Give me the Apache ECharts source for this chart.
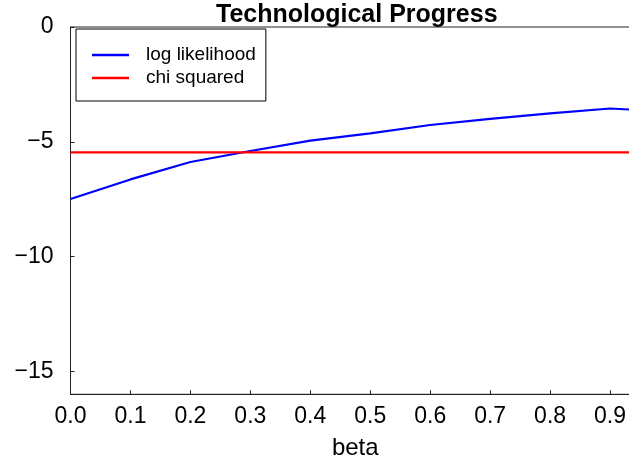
<!DOCTYPE html>
<html>
<head>
<meta charset="utf-8">
<script src="https://cdn.jsdelivr.net/npm/echarts@6/dist/echarts.min.js"></script>
<style>
html,body{margin:0;padding:0;background:#fff;}
#chart{width:629px;height:459px;}
</style>
</head>
<body>
<div id="chart"></div>
<script>
const betaValues = [0.0, 0.1, 0.2, 0.3, 0.4, 0.5, 0.6, 0.7, 0.8, 0.9, 0.95];
const logLikelihood = [-7.49, -6.64, -5.88, -5.40, -4.95, -4.63, -4.27, -4.00, -3.76, -3.55, -3.62];
const chiSquaredBeta = [0.0, 0.95];
const chiSquared = [-5.46, -5.46];
const yTicks = [-15, -10, -5, 0];
const seriesNames = ['log likelihood', 'chi squared'];

const font = 'Liberation Sans, Arial, Helvetica, sans-serif';
const chart = echarts.init(document.getElementById('chart'), null, {renderer: 'canvas'});
chart.setOption({
  animation: false,
  backgroundColor: '#ffffff',
  title: {
    text: 'Technological Progress',
    left: 211, top: -2,
    textStyle: {fontFamily: font, fontSize: 25, fontWeight: 'bold', color: '#000'}
  },
  legend: {
    data: seriesNames,
    orient: 'vertical',
    left: 76, top: 29,
    padding: [16, 10, 13, 16],
    borderColor: '#000', borderWidth: 1,
    icon: 'rect',
    itemWidth: 37, itemHeight: 2.5, itemGap: 3,
    textStyle: {fontFamily: font, fontSize: 19, color: '#000', lineHeight: 20, padding: [0, 0, 0, 12]}
  },
  grid: {
    left: 70.5, right: -11, top: 27, bottom: 64.7,
    outerBoundsMode: 'none',
    show: true, borderColor: '#222', borderWidth: 1, containLabel: false
  },
  xAxis: {
    type: 'value', min: 0, max: 0.95, interval: 0.1,
    name: 'beta', nameLocation: 'middle', nameGap: 42,
    nameTextStyle: {fontFamily: font, fontSize: 24, color: '#000'},
    axisLine: {show: true, onZero: false, lineStyle: {color: '#222', width: 1}},
    axisTick: {show: true, inside: true, length: 4, lineStyle: {color: '#222'}},
    axisLabel: {fontFamily: font, fontSize: 23, color: '#000', margin: 11, showMaxLabel: false,
      formatter: v => v.toFixed(1)},
    splitLine: {show: false}
  },
  yAxis: {
    type: 'value', min: -16, max: 0,
    axisLine: {show: true, onZero: false, lineStyle: {color: '#222', width: 1}},
    axisTick: {show: true, inside: true, length: 4, customValues: yTicks, lineStyle: {color: '#222'}},
    axisLabel: {fontFamily: font, fontSize: 23, color: '#000', margin: 17, customValues: yTicks,
      formatter: v => v < 0 ? '\u2212' + Math.abs(v) : String(v)},
    splitLine: {show: false}
  },
  series: [
    {
      name: seriesNames[0], type: 'line', showSymbol: false, symbol: 'none',
      data: betaValues.map((b, i) => [b, logLikelihood[i]]),
      lineStyle: {color: '#0000ff', width: 2.2}, itemStyle: {color: '#0000ff'}
    },
    {
      name: seriesNames[1], type: 'line', showSymbol: false, symbol: 'none',
      data: chiSquaredBeta.map((b, i) => [b, chiSquared[i]]),
      lineStyle: {color: '#ff0000', width: 2.2}, itemStyle: {color: '#ff0000'}
    }
  ]
});
</script>
</body>
</html>
